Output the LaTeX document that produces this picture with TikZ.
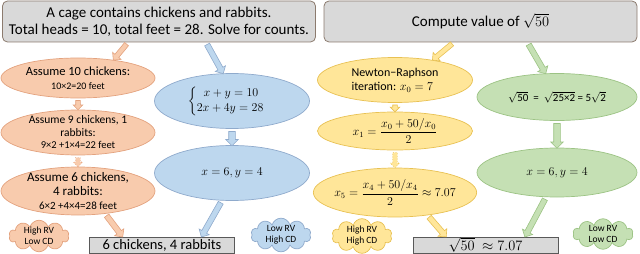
\documentclass[tikz,border=0pt]{standalone}
\usepackage{amsmath}
\usepackage{fontspec}
\setmainfont{Carlito}
\usetikzlibrary{shapes.geometric,shapes.arrows,shapes.symbols,calc}

\definecolor{boxgray}{HTML}{D9D9D9}
\definecolor{boxedge}{HTML}{8C7B6E}
\definecolor{resedge}{HTML}{595959}
\definecolor{orfill}{HTML}{F8CBAD}
\definecolor{oredge}{HTML}{E3A27E}
\definecolor{blfill}{HTML}{BDD7EE}
\definecolor{bledge}{HTML}{8FAACC}
\definecolor{yefill}{HTML}{FFE699}
\definecolor{yeedge}{HTML}{E8C153}
\definecolor{grfill}{HTML}{C5E0B4}
\definecolor{gredge}{HTML}{9CC384}

\tikzset{
  question/.style={rectangle, rounded corners=5pt, draw=boxedge, fill=boxgray,
    line width=0.8pt, minimum width=313pt, minimum height=41pt, align=center,
    font=\fontsize{15}{17}\selectfont},
  stepnode/.style={ellipse, draw=#1edge, fill=#1fill, line width=0.7pt,
    inner sep=-3pt, align=center},
  answer/.style={rectangle, draw=resedge, fill=boxgray, line width=0.8pt,
    minimum width=145pt, minimum height=16pt, inner sep=0pt,
    font=\fontsize{14.5}{16}\selectfont},
  tag/.style={cloud, cloud puffs=10, aspect=2, draw=#1edge, fill=#1fill,
    line width=0.7pt, inner sep=-1pt, minimum width=60pt, minimum height=30pt,
    align=center, font=\fontsize{9.5}{11}\selectfont},
  blockarr/.style={single arrow, draw=#1edge, fill=#1fill, line width=0.6pt,
    single arrow head extend=3pt, single arrow head indent=0pt, inner sep=2.5pt,
    sloped, allow upside down},
}

% block arrow between two named points
\newcommand{\conn}[4][]{%
  \path let \p1=($(#4)-(#3)$), \n1={veclen(\x1,\y1)-2} in
    (#3) -- node[blockarr=#2, minimum height=\n1, #1] {} (#4);}

\begin{document}
\begin{tikzpicture}[x=1pt, y=-1pt]
  \useasboundingbox (0,0) rectangle (640,254);

  % ==========================================
  % 1. LEFT PANEL: CHICKENS AND RABBITS
  % ==========================================
  \node[question] (tl) at (159,21.5)
    {A cage contains chickens and rabbits.\\Total heads = 10, total feet = 28. Solve for counts.};

  % Trial and error chain (orange)
  \node[stepnode=or, minimum width=154pt, minimum height=40pt,
    font=\fontsize{12.5}{14}\selectfont] (a1) at (78,78)
    {Assume 10 chickens:\\{\fontsize{10}{12}\selectfont 10×2=20 feet}};
  \node[stepnode=or, minimum width=154pt, minimum height=45pt,
    font=\fontsize{11.5}{12.5}\selectfont] (a2) at (78,132.5)
    {Assume 9 chickens, 1\\rabbits:\\{\fontsize{10.5}{12}\selectfont 9×2 +1×4=22 feet}};
  \node[stepnode=or, minimum width=154pt, minimum height=48pt,
    font=\fontsize{13}{14}\selectfont] (a3) at (78,191)
    {Assume 6 chickens,\\4 rabbits:\\{\fontsize{11}{13}\selectfont 6×2 +4×4=28 feet}};

  % Equation chain (blue)
  \node[stepnode=bl, minimum width=155pt, minimum height=55pt,
    font=\fontsize{11.5}{13}\selectfont] (b1) at (232,101)
    {$\begin{cases}\;\; x+y=10\\ 2x+4y=28\end{cases}$};
  \node[stepnode=bl, minimum width=155pt, minimum height=55pt,
    font=\fontsize{11.5}{13}\selectfont] (b2) at (232,173) {$x=6, y=4$};

  % Result and tags
  \node[answer] (ra) at (162,245) {6 chickens, 4 rabbits};
  \node[tag=or] (ca) at (39,236) {High RV\\Low CD};
  \node[tag=bl] (cb) at (281,235) {Low RV\\High CD};

  % Block arrows
  \conn[inner sep=2.2pt]{or}{tl.-146}{a1.27}
  \conn{bl}{tl.-24}{b1.108}
  \conn[inner sep=2pt, single arrow head extend=2.5pt]{or}{a1.south}{a2.north}
  \conn[dotted, inner sep=2pt, single arrow head extend=2.5pt]{or}{a2.south}{a3.north}
  \conn{or}{a3.-40}{ra.168}
  \conn[inner sep=3pt]{bl}{b1.south}{b2.north}
  \conn{bl}{b2.-110}{ra.12}

  % ==========================================
  % 2. RIGHT PANEL: SQUARE ROOT OF 50
  % ==========================================
  \node[question] (tr) at (480.5,21.5) {Compute value of $\sqrt{50}$};

  % Iteration chain (yellow)
  \node[stepnode=ye, minimum width=155pt, minimum height=45pt, align=left,
    font=\fontsize{12}{14}\selectfont] (c1) at (395,80)
    {Newton−Raphson\\iteration: $x_0=7$};
  \node[stepnode=ye, minimum width=155pt, minimum height=38pt,
    font=\fontsize{11.5}{13}\selectfont] (c2) at (395,131)
    {$x_1=\dfrac{x_0+50/x_0}{2}$};
  \node[stepnode=ye, minimum width=155pt, minimum height=49pt,
    font=\fontsize{11.5}{13}\selectfont] (c3) at (395,192.5)
    {$x_5=\dfrac{x_4+50/x_4}{2}\approx 7.07$};

  % Simplification chain (green)
  \node[stepnode=gr, minimum width=160pt, minimum height=47pt,
    font=\fontsize{11}{13}\selectfont] (d1) at (557,97)
    {\(\sqrt{\mbox{50}}\) \ = \ \(\sqrt{\mbox{25×2}}\) = 5\(\sqrt{\mbox{2}}\)};
  \node[stepnode=gr, minimum width=160pt, minimum height=49pt,
    font=\fontsize{11.5}{13}\selectfont] (d2) at (557,172.5) {$x=6, y=4$};

  % Result and tags
  \node[answer, font=\fontsize{15}{17}\selectfont] (rb) at (485.5,245)
    {$\sqrt{50}\ \approx 7.07$};
  \node[tag=ye] (cc) at (362,236) {High RV\\High CD};
  \node[tag=gr] (cd) at (603,234) {Low RV\\Low CD};

  % Block arrows
  \conn[inner sep=2.2pt]{ye}{tr.-142}{c1.28}
  \conn{gr}{tr.-24}{d1.116}
  \conn[inner sep=2pt, single arrow head extend=2.5pt]{ye}{c1.south}{c2.north}
  \conn[dotted, inner sep=2pt, single arrow head extend=2.5pt]{ye}{c2.south}{c3.north}
  \conn{ye}{c3.-35}{rb.168}
  \conn[inner sep=3pt]{gr}{d1.south}{d2.north}
  \conn{gr}{d2.-114}{rb.12}
\end{tikzpicture}
\end{document}
